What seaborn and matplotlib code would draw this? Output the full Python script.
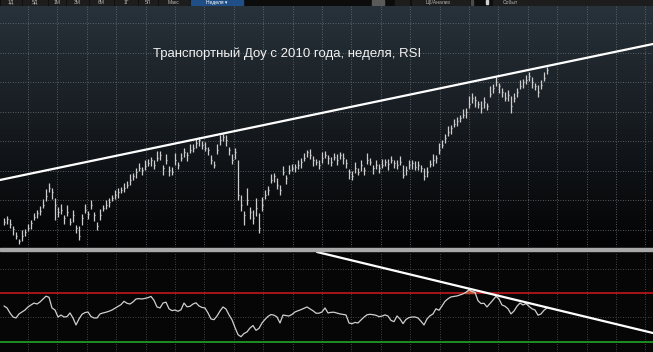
import numpy as np
import pandas as pd
import matplotlib
matplotlib.use("Agg")
import matplotlib.pyplot as plt
import seaborn as sns
from matplotlib.patches import Rectangle

# ---------------- data ----------------
title = "Транспортный Доу с 2010 года, неделя, RSI"

close = [
    4060, 4120, 4020, 3920, 3780, 3680, 3780, 3860, 3940, 4040,
    4160, 4240, 4280, 4400, 4580, 4740, 4660, 4400, 4260, 4300,
    4140, 4260, 4060, 4200, 3940, 3780, 4140, 4300, 4220, 4400,
    4200, 3980, 4200, 4340, 4400, 4460, 4540, 4600, 4660, 4700,
    4740, 4800, 4900, 4980, 5060, 5140, 5100, 5180, 5240, 5300,
    5200, 5340, 5400, 5140, 5300, 5100, 5060, 5300, 5200, 5340,
    5460, 5400, 5500, 5540, 5640, 5700, 5600, 5540, 5500, 5300,
    5200, 5500, 5700, 5760, 5700, 5500, 5300, 5460, 4600, 4400,
    4200, 4500, 4260, 4140, 4340, 3940, 4400, 4600, 4700, 4900,
    4980, 4800, 4700, 5060, 4940, 5100, 5140, 5160, 5200, 5260,
    5340, 5460, 5400, 5300, 5260, 5200, 5340, 5400, 5340, 5260,
    5360, 5300, 5400, 5340, 5240, 5060, 4980, 5140, 5060, 5200,
    5100, 5300, 5260, 5140, 5200, 5140, 5200, 5260, 5220, 5300,
    5240, 5200, 5260, 5000, 5100, 5200, 5240, 5160, 5200, 5140,
    4980, 5060, 5220, 5300, 5340, 5500, 5600, 5740, 5860, 5940,
    6020, 6080, 6140, 6200, 6260, 6420, 6540, 6500, 6420, 6340,
    6460, 6380, 6620, 6740, 6860, 6780, 6660, 6540, 6600, 6380,
    6540, 6660, 6780, 6860, 6900, 6980, 6860, 6780, 6660, 6800,
    6940, 7100,
]

# weekly range above / below the close
hi_ext = [
    80, 60, 100, 60, 80, 40, 120, 60, 80, 60,
    80, 60, 100, 120, 140, 100, 80, 140, 100, 120,
    60, 140, 80, 100, 60, 200, 80, 120, 60, 100,
    60, 80, 120, 60, 100, 80, 60, 100, 80, 60,
    100, 80, 120, 60, 80, 100, 60, 120, 80, 60,
    100, 140, 80, 60, 120, 80, 100, 140, 60, 100,
    80, 60, 120, 80, 100, 60, 80, 120, 60, 100,
    80, 120, 100, 60, 100, 60, 120, 80, 700, 200,
    80, 240, 100, 160, 200, 300, 160, 100, 80, 120,
    60, 140, 100, 120, 60, 100, 80, 60, 100, 80,
    100, 40, 120, 80, 60, 100, 120, 80, 60, 100,
    80, 120, 60, 100, 80, 60, 100, 120, 80, 100,
    60, 140, 80, 60, 100, 80, 120, 60, 100, 80,
    60, 100, 120, 200, 80, 100, 60, 120, 80, 60,
    160, 100, 80, 120, 60, 140, 100, 80, 120, 60,
    100, 80, 60, 120, 80, 160, 100, 80, 60, 140,
    100, 60, 160, 80, 100, 60, 80, 120, 100, 200,
    100, 80, 120, 60, 100, 80, 100, 60, 140, 100,
    120, 60,
]
lo_ext = [
    60, 100, 80, 120, 60, 60, 100, 80, 60, 120,
    60, 100, 80, 60, 100, 80, 140, 300, 100, 80,
    120, 80, 60, 140, 100, 80, 140, 60, 100, 80,
    120, 80, 100, 60, 80, 100, 60, 80, 120, 60,
    80, 60, 100, 80, 120, 60, 100, 80, 60, 120,
    80, 60, 100, 140, 80, 120, 60, 100, 80, 60,
    100, 120, 60, 80, 100, 120, 80, 60, 100, 80,
    60, 80, 100, 80, 120, 100, 80, 140, 100, 120,
    200, 100, 140, 120, 160, 100, 120, 80, 100, 60,
    120, 80, 100, 60, 120, 80, 60, 100, 80, 120,
    60, 100, 80, 120, 60, 80, 100, 60, 120, 80,
    60, 100, 80, 120, 100, 140, 80, 100, 60, 120,
    100, 80, 60, 120, 80, 100, 60, 80, 120, 60,
    100, 80, 60, 60, 100, 80, 120, 60, 100, 80,
    80, 100, 60, 120, 100, 80, 60, 100, 80, 120,
    60, 100, 80, 60, 120, 80, 100, 140, 80, 100,
    120, 80, 60, 100, 80, 140, 100, 60, 120, 140,
    80, 100, 60, 120, 80, 100, 120, 80, 100, 80,
    60, 80,
]

rsi = [
    59.4, 57.8, 53.7, 50.4, 49.6, 52.9, 54.5, 56.1, 58.6, 60.2,
    61.8, 61.0, 62.7, 65.1, 67.4, 66.5, 57.8, 56.1, 50.4, 52.0,
    50.4, 50.7, 53.7, 49.6, 43.9, 48.8, 52.6, 54.0, 54.5, 50.8,
    49.6, 49.6, 52.9, 53.7, 54.3, 55.1, 56.1, 57.6, 59.1, 60.5,
    63.2, 61.6, 61.0, 62.7, 65.1, 65.4, 65.1, 65.6, 66.2, 67.2,
    64.0, 58.6, 57.8, 61.8, 62.5, 57.1, 55.6, 56.1, 55.1, 56.3,
    61.8, 58.7, 59.1, 61.0, 62.0, 59.4, 58.2, 57.8, 53.7, 48.8,
    48.2, 51.2, 55.3, 58.6, 56.9, 52.2, 48.1, 41.8, 36.0, 34.3,
    36.9, 38.2, 41.4, 43.4, 39.5, 41.1, 45.5, 48.4, 50.9, 52.4,
    51.9, 50.4, 45.5, 52.0, 51.6, 51.2, 52.5, 54.5, 55.5, 56.4,
    57.5, 58.6, 57.1, 55.5, 53.5, 53.5, 54.5, 57.8, 53.7, 54.2,
    54.3, 53.6, 52.9, 52.5, 52.1, 45.5, 44.9, 46.0, 45.5, 48.0,
    50.3, 52.2, 52.6, 52.3, 51.8, 50.7, 51.1, 52.1, 51.2, 47.6,
    46.6, 51.2, 48.8, 45.0, 48.4, 49.9, 50.4, 50.4, 49.6, 46.9,
    43.9, 48.8, 51.4, 52.9, 57.1, 55.9, 59.4, 63.2, 65.3, 66.8,
    67.2, 67.6, 68.4, 69.3, 70.6, 72.6, 71.1, 70.6, 63.7, 61.4,
    61.6, 58.6, 61.4, 64.3, 67.3, 65.1, 60.2, 59.2, 57.1, 52.9,
    55.3, 59.2, 61.8, 60.2, 61.4, 59.1, 57.1, 56.1, 51.9, 52.9,
    55.9, 57.8,
]

# trendlines drawn on the chart (two points each: week index, value)
trend_price = [(0, 4917), (216, 7616)]
trend_rsi = [(103, 104.3), (181, 58.2)]
rsi_overbought = 70
rsi_oversold = 30

toolbar_buttons = ["1Д", "5Д", "1М", "3М", "6М", "1Г", "5Л", "Макс"]
toolbar_selected = "Неделя ▾"
toolbar_right = ["Цб/Анализ", "Событ"]

# ---------------- frame ----------------
n = len(close)
df = pd.DataFrame({
    "week": np.arange(n),
    "close": close,
    "high": np.array(close) + np.array(hi_ext),
    "low": np.array(close) - np.array(lo_ext),
    "rsi": rsi,
})

sns.set_style("dark")
plt.rcParams["font.family"] = ["Liberation Sans", "DejaVu Sans"]

W, H = 653, 352
fig = plt.figure(figsize=(W / 100, H / 100), dpi=100)
fig.patch.set_facecolor("#060606")

xlim = (-4 / 3, (W - 4) / 3)

# ---------- price panel ----------
ax1 = fig.add_axes([0, 105 / H, 1, 241 / H])
ylim1 = (3560, 8380)
ax1.set_xlim(*xlim)
ax1.set_ylim(*ylim1)
top = np.array([40, 50, 58]) / 255
bot = np.array([3, 3, 4]) / 255
t = np.linspace(0, 1, 240)[:, None]
grad = (top * (1 - t) + bot * t)[:, None, :]
ax1.imshow(grad, extent=[xlim[0], xlim[1], ylim1[0], ylim1[1]],
           aspect="auto", origin="upper", zorder=0)
ax1.set_xticks(np.arange(8, 216, 9.8))
ax1.set_yticks(np.linspace(3900, 8040, 8))
ax1.grid(True, color="#6b757c", ls=(0, (1, 2)), lw=0.6, zorder=1)
ax1.tick_params(length=0, labelbottom=False, labelleft=False)
for s in ax1.spines.values():
    s.set_visible(False)

ax1.vlines(df["week"], df["low"], df["high"], color="#cccccc", lw=0.9, zorder=3)
ax1.hlines(df["close"], df["week"], df["week"] + 0.45, color="#cccccc", lw=0.9, zorder=3)
ax1.axline(trend_price[0], trend_price[1], color="white", lw=1.6, zorder=4)
ax1.set_xlabel("")
ax1.set_ylabel("")

fig.text(153 / W, 1 - 54 / H, title, color="#f2f2f2", fontsize=9.5,
         ha="left", va="center")

# ---------- separator ----------
fig.add_artist(Rectangle((0, (H - 251.3) / H), 1, 3.4 / H,
                         transform=fig.transFigure, color="#a8a8a8", zorder=5))

# ---------- RSI panel ----------
ax2 = fig.add_axes([0, 0, 1, 100 / H])
ax2.set_facecolor("#060606")
ax2.set_xlim(*xlim)
ax2.set_ylim(21.8, 103.5)
ax2.set_xticks(np.arange(8, 216, 9.8))
ax2.set_yticks([50, 90])
ax2.grid(True, color="#5a5a5a", ls=(0, (1, 2)), lw=0.6, zorder=1)
ax2.tick_params(length=0, labelbottom=False, labelleft=False)
for s in ax2.spines.values():
    s.set_visible(False)
ax2.axhline(rsi_overbought, color="#b3161a", lw=1.3, zorder=2)
ax2.axhline(rsi_oversold, color="#1f9a22", lw=1.3, zorder=2)
ax2.fill_between(df["week"], rsi_overbought, df["rsi"],
                 where=df["rsi"] > rsi_overbought, interpolate=True,
                 color="#c4482c", zorder=3)
sns.lineplot(data=df, x="week", y="rsi", ax=ax2, color="#cfcfcf", lw=0.9, zorder=4)
ax2.axline(trend_rsi[0], trend_rsi[1], color="white", lw=1.6, zorder=5)
ax2.set_xlabel("")
ax2.set_ylabel("")

# ---------- toolbar strip ----------
ax0 = fig.add_axes([0, 1 - 6 / H, 1, 6 / H])
ax0.set_xlim(0, W)
ax0.set_ylim(6, 0)
ax0.axis("off")
ax0.add_patch(Rectangle((0, 0), W, 6, color="#0c0c0c"))
edges = [0, 22, 48, 66, 89, 114, 138, 158, 190]
tb_font = 3.6
for i, lab in enumerate(toolbar_buttons):
    x0, x1 = edges[i], edges[i + 1]
    ax0.add_patch(Rectangle((x0 + 1, 0), x1 - x0 - 2, 5.2, color="#1d1d1d"))
    ax0.text((x0 + x1) / 2, 2.7, lab, color="#b8b8b8", fontsize=tb_font,
             ha="center", va="center")
ax0.add_patch(Rectangle((191, 0), 52, 5.4, color="#1f4f86"))
ax0.text(217, 2.7, toolbar_selected, color="#ffffff", fontsize=tb_font,
         ha="center", va="center")
ax0.add_patch(Rectangle((372, 0), 12, 5.2, color="#5a5a5a"))
ax0.add_patch(Rectangle((395, 0), 14, 5.2, color="#1d1d1d"))
ax0.add_patch(Rectangle((412, 0), 57, 5.2, color="#1d1d1d"))
ax0.text(438, 2.7, toolbar_right[0], color="#b8b8b8", fontsize=tb_font,
         ha="center", va="center")
ax0.add_patch(Rectangle((471, 0), 2, 5.2, color="#4a4a4a"))
ax0.add_patch(Rectangle((486, 0), 2, 4, color="#d0d0d0"))
ax0.add_patch(Rectangle((493, 0), 160, 5.2, color="#1d1d1d"))
ax0.text(510, 2.7, toolbar_right[1], color="#b8b8b8", fontsize=tb_font,
         ha="center", va="center")

fig.savefig("out.png", dpi=100, facecolor=fig.get_facecolor())
